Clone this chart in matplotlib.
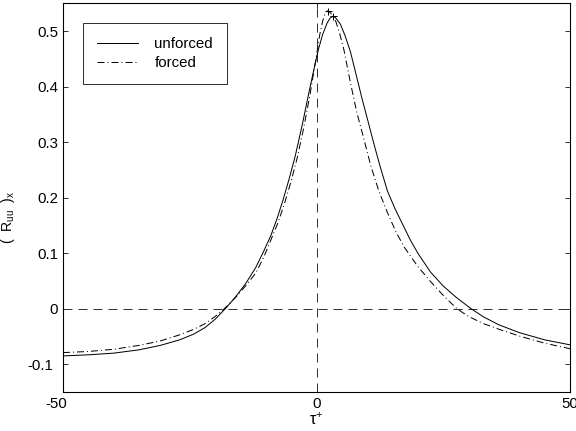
import matplotlib
matplotlib.use("Agg")
import matplotlib.pyplot as plt
import matplotlib.transforms as mtransforms

plt.rcParams['font.family'] = ['Liberation Sans', 'DejaVu Sans']
plt.rcParams['mathtext.fontset'] = 'custom'
plt.rcParams['mathtext.rm'] = 'Liberation Sans'
plt.rcParams['mathtext.it'] = 'Liberation Sans:italic'
plt.rcParams['mathtext.default'] = 'regular'

tau_unforced = [-50, -45, -40, -35, -30.8, -27, -24.3, -22, -20, -18, -16, -14, -12, -10.4,
                -9, -7.8, -6.6, -5.4, -4.2, -2.8, -1.6, -0.5, 0.4, 1.2, 2.1, 2.7, 3.2, 3.8,
                4.7, 5.6, 6.7, 8.0, 9.0, 10.1, 11.3, 12.5, 14, 15.5, 17, 18.5, 20, 22.5, 25,
                27.5, 30.5, 33, 36, 40, 45, 50]
r_unforced = [-0.085, -0.083, -0.080, -0.074, -0.066, -0.056, -0.046, -0.034, -0.019, 0.0,
              0.021, 0.045, 0.074, 0.104, 0.132, 0.162, 0.196, 0.234, 0.275, 0.332, 0.385,
              0.432, 0.468, 0.494, 0.515, 0.524, 0.527, 0.524, 0.513, 0.493, 0.463, 0.415,
              0.378, 0.340, 0.298, 0.258, 0.212, 0.180, 0.152, 0.124, 0.100, 0.066, 0.041,
              0.021, 0.0, -0.015, -0.029, -0.043, -0.056, -0.065]

tau_forced = [-50, -45, -40, -35, -30.8, -27, -24.2, -22, -20, -18.3, -16, -14, -12, -10.4,
              -9, -7.6, -6.3, -5, -3.8, -2.5, -1.3, -0.2, 0.6, 1.2, 1.7, 2.2, 2.8, 3.8, 4.6,
              5.4, 6.7, 8.0, 9.0, 10.7, 12.3, 14, 15.6, 17.3, 20, 22.5, 25, 27.7, 30, 33, 36,
              40.3, 45, 50]
r_forced = [-0.079, -0.077, -0.073, -0.066, -0.058, -0.047, -0.037, -0.027, -0.014, -0.001,
            0.020, 0.041, 0.064, 0.093, 0.124, 0.155, 0.190, 0.230, 0.272, 0.327, 0.385,
            0.445, 0.492, 0.518, 0.532, 0.537, 0.533, 0.518, 0.495, 0.467, 0.407, 0.352,
            0.318, 0.258, 0.212, 0.173, 0.140, 0.111, 0.076, 0.049, 0.024, 0.0, -0.014,
            -0.027, -0.037, -0.050, -0.062, -0.072]

peak_unforced = (3.2, 0.527)
peak_forced = (2.2, 0.537)

x_ticks = [-50, 0, 50]
y_ticks = [-0.1, 0, 0.1, 0.2, 0.3, 0.4, 0.5]
y_ticklabels = ['-0.1', '0', '0.1', '0.2', '0.3', '0.4', '0.5']

fig = plt.figure(figsize=(8, 431 / 72), dpi=72)
ax = fig.add_axes([63 / 576, 39 / 431, 507 / 576, 389 / 431])

ax.axhline(0, color='#333333', lw=1.0, linestyle=(0, (9, 6)))
ax.axvline(0, color='#333333', lw=1.0, linestyle=(0, (9, 6)))

ax.plot(tau_unforced, r_unforced, color='black', lw=1.0, label='unforced')
ax.plot(tau_forced, r_forced, color='black', lw=1.0, linestyle=(0, (7, 3, 1, 3)), label='forced')
ax.plot([peak_unforced[0]], [peak_unforced[1]], marker='+', color='black', ms=7, mew=1.0)
ax.plot([peak_forced[0]], [peak_forced[1]], marker='+', color='black', ms=7, mew=1.0)

ax.set_xlim(-50, 50)
ax.set_ylim(-0.15, 0.551)
ax.set_xticks(x_ticks)
ax.set_xticklabels([str(t) for t in x_ticks])
ax.set_yticks(y_ticks)
ax.set_yticklabels(y_ticklabels)
ax.tick_params(direction='in', top=True, right=True, length=5, width=0.8, labelsize=15, pad=5)
for s in ax.spines.values():
    s.set_linewidth(1.1)

for lab in ax.get_xticklabels():
    if lab.get_text().startswith('-'):
        lab.set_transform(lab.get_transform() + mtransforms.ScaledTranslation(-7 / 72, 0, fig.dpi_scale_trans))
for lab in ax.get_yticklabels():
    if lab.get_text().startswith('-'):
        lab.set_transform(lab.get_transform() + mtransforms.ScaledTranslation(-5 / 72, 0, fig.dpi_scale_trans))

ax.set_xlabel(r'$\tau^{+}$', fontsize=16, labelpad=0)
ax.set_ylabel(r'(  R$_{uu}$  )$_{x}$', fontsize=14)
ax.yaxis.set_label_coords(-46 / 507, 0.45)

leg = ax.legend(loc='upper left', bbox_to_anchor=(20 / 507, (389 - 20) / 389), fancybox=False,
                edgecolor='black', framealpha=1, fontsize=15, handlelength=2.7,
                borderpad=0.95, labelspacing=0.3, handletextpad=1.1, borderaxespad=0)
leg.get_frame().set_linewidth(0.8)

fig.savefig('out.png', dpi=72)
